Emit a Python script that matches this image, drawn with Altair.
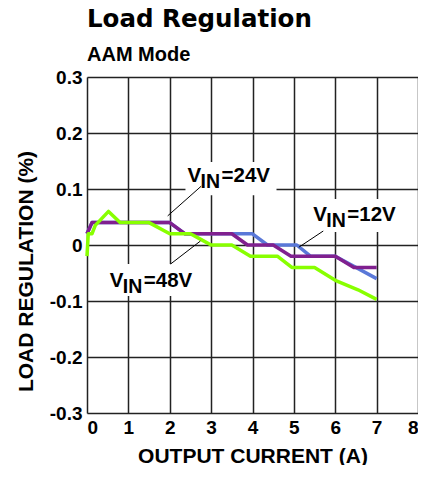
import altair as alt
import pandas as pd

FONT = "Liberation Sans"

# axis ticks
x_ticks = [0, 1, 2, 3, 4, 5, 6, 7, 8]
y_ticks = [-0.3, -0.2, -0.1, 0.0, 0.1, 0.2, 0.3]

# series: output current (A) vs load regulation (%)
cur_12 = [0.0, 0.12, 2.0, 2.37, 4.0, 4.36, 5.07, 5.4, 6.0, 7.0]
reg_12 = [0.02, 0.04, 0.04, 0.02, 0.02, 0.0, 0.0, -0.02, -0.02, -0.06]

cur_24 = [0.0, 0.12, 2.0, 2.37, 3.5, 3.88, 4.5, 4.93, 6.0, 6.45, 7.0]
reg_24 = [0.02, 0.04, 0.04, 0.02, 0.02, 0.0, 0.0, -0.02, -0.02, -0.04, -0.04]

cur_48 = [0.0, 0.03, 0.12, 0.2, 0.52, 0.8, 1.5, 2.0, 2.5, 2.75, 3.0, 3.5, 3.95,
          4.6, 4.95, 5.5, 6.0, 6.55, 7.0]
reg_48 = [-0.02, 0.02, 0.02, 0.035, 0.06, 0.04, 0.04, 0.02, 0.02, 0.01, 0.0, 0.0,
          -0.02, -0.02, -0.04, -0.04, -0.063, -0.08, -0.097]

series_names = ["12V", "24V", "48V"]
series_colors = ["#5A78D8", "#80208F", "#88FF00"]

# annotations
label_rest = ["=24V", "=48V", "=12V"]
label_x = [2.43, 0.55, 5.47]
label_y = [0.113, -0.075, 0.042]
box_x1 = [2.38, 0.40, 5.26]
box_x2 = [4.58, 2.85, 7.75]
box_y1 = [0.089, -0.091, 0.023]
box_y2 = [0.148, -0.034, 0.082]
lead_x1 = [2.76, 2.02, 5.71]
lead_y1 = [0.105, -0.034, 0.025]
lead_x2 = [1.95, 2.74, 5.12]
lead_y2 = [0.052, 0.007, -0.004]

x_scale = alt.Scale(domain=[0, 8], nice=False, zero=False)
y_scale = alt.Scale(domain=[-0.3, 0.3], nice=False, zero=False)

x_axis = alt.Axis(values=x_ticks, format="d", grid=True, gridColor="#222222",
                  gridWidth=1.5, domain=False, ticks=False, labelFlush=True,
                  labelOverlap=False, labelFont=FONT, labelFontSize=19,
                  labelFontWeight="bold", labelColor="black", labelPadding=5,
                  title="OUTPUT CURRENT (A)", titleFont=FONT, titleFontSize=21,
                  titleFontWeight="bold", titleColor="black", titleY=49,
                  titleBaseline="alphabetic")
y_axis = alt.Axis(values=y_ticks, grid=True, gridColor="#222222", gridWidth=1.5,
                  domain=False, ticks=False, labelOverlap=False, labelFlush=False,
                  labelExpr="datum.value == 0 ? '0' : (datum.value < 0 ? '-' + format(-datum.value, '.1f') : format(datum.value, '.1f'))",
                  labelFont=FONT, labelFontSize=19, labelFontWeight="bold",
                  labelColor="black", labelPadding=5,
                  title="LOAD REGULATION (%)", titleFont=FONT, titleFontSize=21,
                  titleFontWeight="bold", titleColor="black", titleAngle=270,
                  titleX=-55, titleY=194, titleBaseline="alphabetic",
                  titleAlign="center")


def series_df(xs, ys, name):
    return pd.DataFrame({"current": xs, "reg": ys, "series": name})


layers = []
for xs, ys, name, col in zip([cur_12, cur_24, cur_48], [reg_12, reg_24, reg_48],
                             series_names, series_colors):
    layers.append(
        alt.Chart(series_df(xs, ys, name)).mark_line(
            color=col, strokeWidth=3.5, strokeJoin="round", strokeCap="butt"
        ).encode(
            x=alt.X("current:Q", scale=x_scale, axis=x_axis),
            y=alt.Y("reg:Q", scale=y_scale, axis=y_axis),
        )
    )

ann = pd.DataFrame({
    "lx": label_x, "ly": label_y, "rest": label_rest,
    "bx1": box_x1, "bx2": box_x2, "by1": box_y1, "by2": box_y2,
    "qx1": lead_x1, "qy1": lead_y1, "qx2": lead_x2, "qy2": lead_y2,
})

boxes = alt.Chart(ann).mark_rect(color="white").encode(
    x=alt.X("bx1:Q", scale=x_scale), x2="bx2",
    y=alt.Y("by1:Q", scale=y_scale), y2="by2",
)
leaders = alt.Chart(ann).mark_rule(color="black", strokeWidth=1).encode(
    x=alt.X("qx1:Q", scale=x_scale), x2="qx2",
    y=alt.Y("qy1:Q", scale=y_scale), y2="qy2",
)
txt_kw = dict(font=FONT, fontWeight="bold", color="black", align="left",
              baseline="alphabetic")
t_v = alt.Chart(ann).mark_text(fontSize=20.5, text="V", **txt_kw).encode(
    x=alt.X("lx:Q", scale=x_scale), y=alt.Y("ly:Q", scale=y_scale))
t_in = alt.Chart(ann).mark_text(fontSize=19.5, text="IN", dx=13, dy=6, **txt_kw).encode(
    x=alt.X("lx:Q", scale=x_scale), y=alt.Y("ly:Q", scale=y_scale))
t_rest = alt.Chart(ann).mark_text(fontSize=20.5, dx=34, **txt_kw).encode(
    x=alt.X("lx:Q", scale=x_scale), y=alt.Y("ly:Q", scale=y_scale), text="rest:N")

chart = alt.layer(boxes, *layers, leaders, t_v, t_in, t_rest).properties(
    width=331, height=336,
    autosize=alt.AutoSizeParams(type="none"),
    padding={"left": 79, "top": 69, "right": 0, "bottom": 52},
    title=alt.TitleParams(
        text="Load Regulation", subtitle="AAM Mode", anchor="start", frame="group",
        font="DejaVu Sans", fontSize=24.5, fontWeight="bold", color="black",
        subtitleFont=FONT, subtitleFontSize=20, subtitleFontWeight="bold",
        subtitleColor="black", subtitlePadding=13, offset=2,
    ),
).configure_view(stroke="black", strokeWidth=2).configure(background="white")

chart.save("out.html", embed_options={"renderer": "svg", "actions": False})
